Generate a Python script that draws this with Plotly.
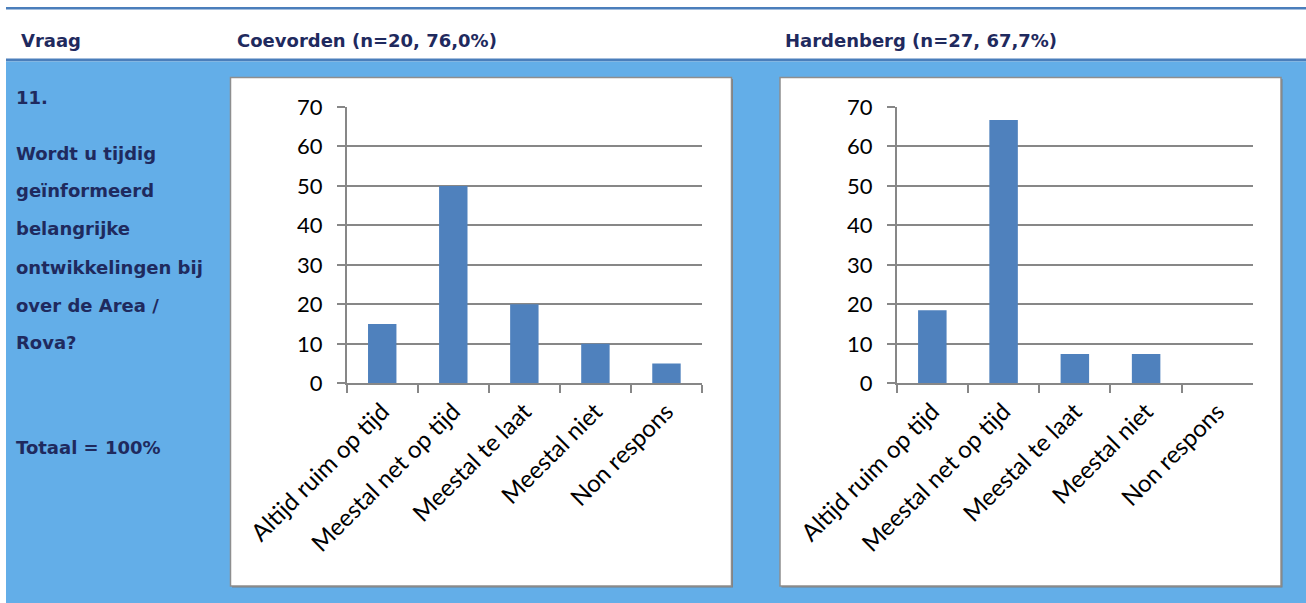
import plotly.graph_objects as go

# ---------------- data ----------------
categories = ["Altijd ruim op tijd", "Meestal net op tijd", "Meestal te laat",
              "Meestal niet", "Non respons"]
coevorden_pct = [15, 50, 20, 10, 5]
hardenberg_pct = [18.5, 66.7, 7.4, 7.4, 0]
y_tick_values = [0, 10, 20, 30, 40, 50, 60, 70]

header_vraag = "Vraag"
header_coevorden = "Coevorden (n=20, 76,0%)"
header_hardenberg = "Hardenberg (n=27, 67,7%)"
question_number = "11."
question_lines = ["Wordt u tijdig", "geïnformeerd", "belangrijke",
                  "ontwikkelingen bij", "over de Area /", "Rova?"]
total_label = "Totaal = 100%"

# ---------------- styling ----------------
W, H = 1306, 603
NAVY = "#1f2a5e"
PANEL = "#63aee8"
LINE_BLUE = "#4a7ebb"
BAR = "#4f81bd"
GRID = "#878787"
BOX_BORDER = "#8e8e8e"
YTICK_FONT = dict(family="Lato", size=22, color="#000000")
XTICK_FONT = dict(family="Lato", size=24, color="#000000")


def px(x):
    return x / W


def py(y):
    return 1 - y / H


fig = go.Figure()

fig.add_trace(go.Bar(x=categories, y=coevorden_pct, marker_color=BAR,
                     marker_line_width=0, width=0.4, xaxis="x", yaxis="y",
                     showlegend=False, hoverinfo="x+y"))
fig.add_trace(go.Bar(x=categories, y=hardenberg_pct, marker_color=BAR,
                     marker_line_width=0, width=0.4, xaxis="x2", yaxis="y2",
                     showlegend=False, hoverinfo="x+y"))

xaxis_common = dict(type="category", tickson="boundaries", ticks="outside",
                    ticklen=8, tickwidth=1.5, tickcolor=GRID, showline=True,
                    linecolor=GRID, linewidth=1.5, tickangle=-45,
                    tickfont=XTICK_FONT, showgrid=False, zeroline=False,
                    fixedrange=True, automargin=False, ticklabelstandoff=3)
yaxis_common = dict(range=[0, 70], tickvals=y_tick_values, ticks="outside",
                    ticklen=8, tickwidth=1.5, tickcolor=GRID, showline=True,
                    linecolor=GRID, linewidth=1.5, showgrid=True,
                    gridcolor=GRID, gridwidth=1.5, zeroline=False,
                    tickfont=YTICK_FONT, ticklabelstandoff=10, fixedrange=True,
                    automargin=False)

y_dom = [py(383.3), py(107)]

shapes = [
    # header lines
    dict(type="rect", xref="paper", yref="paper", x0=px(6), x1=1,
         y0=py(9.5), y1=py(7), fillcolor=LINE_BLUE, line_width=0, layer="below"),
    dict(type="rect", xref="paper", yref="paper", x0=px(6), x1=1,
         y0=py(61.5), y1=py(58.5), fillcolor=LINE_BLUE, line_width=0, layer="below"),
    # blue panel
    dict(type="rect", xref="paper", yref="paper", x0=px(6), x1=1,
         y0=0, y1=py(61.5), fillcolor=PANEL, line_width=0, layer="below"),
    # chart boxes (shadow + box)
    dict(type="rect", xref="paper", yref="paper", x0=px(232), x1=px(733),
         y0=py(587.5), y1=py(79), fillcolor="#7f7f7f", line_width=0, layer="below"),
    dict(type="rect", xref="paper", yref="paper", x0=px(230.5), x1=px(731.5),
         y0=py(586), y1=py(77.5), fillcolor="#ffffff",
         line=dict(color=BOX_BORDER, width=1.5), layer="below"),
    dict(type="rect", xref="paper", yref="paper", x0=px(781.5), x1=px(1282.5),
         y0=py(587.5), y1=py(79), fillcolor="#7f7f7f", line_width=0, layer="below"),
    dict(type="rect", xref="paper", yref="paper", x0=px(780), x1=px(1281),
         y0=py(586), y1=py(77.5), fillcolor="#ffffff",
         line=dict(color=BOX_BORDER, width=1.5), layer="below"),
]

annotations = []


def add_text(text, x, y, size=18):
    annotations.append(dict(text="<b>" + text + "</b>", xref="paper", yref="paper",
                            x=px(x), y=py(y), xanchor="left", yanchor="middle",
                            showarrow=False,
                            font=dict(family="DejaVu Sans", size=size, color=NAVY)))


add_text(header_vraag, 19, 40)
add_text(header_coevorden, 235, 40)
add_text(header_hardenberg, 783, 40)
add_text(question_number, 14, 97)
line_y = [153, 190, 228, 267, 305, 342]
for t, yy in zip(question_lines, line_y):
    add_text(t, 14, yy)
add_text(total_label, 14, 447)

fig.update_layout(
    template="none",
    width=W, height=H,
    margin=dict(l=0, r=0, t=0, b=0, pad=0),
    paper_bgcolor="#ffffff",
    plot_bgcolor="rgba(0,0,0,0)",
    showlegend=False,
    xaxis=dict(domain=[px(346.7), px(702)], anchor="y", **xaxis_common),
    yaxis=dict(domain=y_dom, anchor="x", **yaxis_common),
    xaxis2=dict(domain=[px(896.7), px(1253)], anchor="y2", **xaxis_common),
    yaxis2=dict(domain=y_dom, anchor="x2", **yaxis_common),
    shapes=shapes,
    annotations=annotations,
    bargap=0.6,
)

fig.write_html("out.html")
